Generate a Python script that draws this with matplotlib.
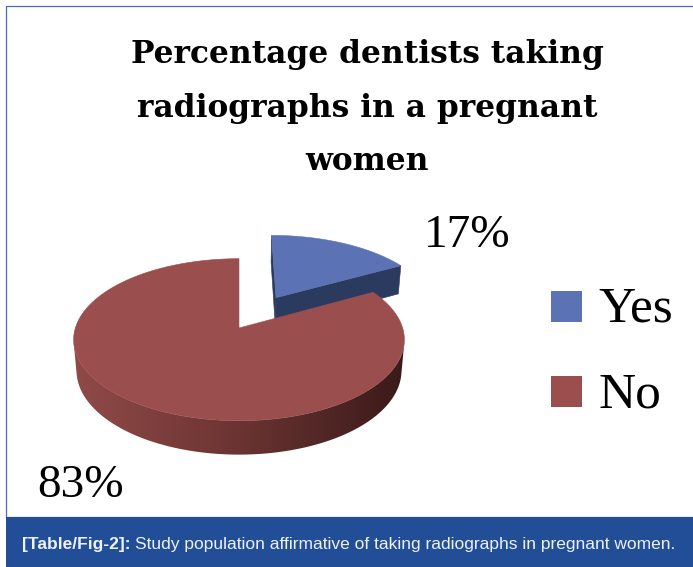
import matplotlib.pyplot as plt
import numpy as np
from matplotlib.colors import LinearSegmentedColormap
from matplotlib.patches import Polygon, Rectangle

# chart content
title_lines = ["Percentage dentists taking", "radiographs in a pregnant", "women"]
categories = ["Yes", "No"]
percent = [17, 83]
explode = [0.47, 0.0]
caption_tag = "[Table/Fig-2]:"
caption_text = "Study population affirmative of taking radiographs in pregnant women."

top_colors = ["#5B72B5", "#9A4F4E"]
wall_colors = ["#2B3A5F", "#5E2D2C"]
side_cmaps = [
    LinearSegmentedColormap.from_list("side_yes", ["#3F5690", "#233256"]),
    LinearSegmentedColormap.from_list("side_no", ["#904A48", "#6A3432", "#3A1A19"]),
]

# 3D view of the pie (excel style perspective)
phi = np.radians(29)
dist = 6.05
focal = 990
depth = 0.218
cx, cy = 239, 328
cam = np.array([0.0, -dist * np.cos(phi), dist * np.sin(phi)])


def project(X, Y, Z):
    yc = Z * np.cos(phi) + Y * np.sin(phi)
    zc = dist + Y * np.cos(phi) - Z * np.sin(phi)
    return np.column_stack([cx + focal * X / zc, cy - focal * yc / zc])


fig = plt.figure(figsize=(6.93, 5.67), dpi=100)
ax = fig.add_axes([0, 0, 1, 1])
ax.set_xlim(0, 693)
ax.set_ylim(567, 0)
ax.axis("off")

# frame of the figure and caption bar
ax.add_patch(Rectangle((6, 6), 720, 511, fill=False, edgecolor="#4A6DB3", lw=0.9))
ax.add_patch(Rectangle((6, 517), 700, 60, facecolor="#214E97", edgecolor="none"))

# slice angles, starting at 12 o'clock and going clockwise
frac = np.array(percent) / sum(percent)
bounds = 90 - 360 * np.concatenate([[0], np.cumsum(frac)])

slices = []
for i in range(len(percent)):
    t0, t1 = np.radians(bounds[i]), np.radians(bounds[i + 1])
    mid = (t0 + t1) / 2
    ox, oy = explode[i] * np.cos(mid), explode[i] * np.sin(mid)
    slices.append((i, t0, t1, ox, oy))

# back slices first
slices.sort(key=lambda s: -s[4])

for i, t0, t1, ox, oy in slices:
    t = np.linspace(t0, t1, 300)
    rx, ry = ox + np.cos(t), oy + np.sin(t)

    # outer side, only the part facing the camera
    vis = -(rx - cam[0]) * np.cos(t) - (ry - cam[1]) * np.sin(t) > 0
    if vis.sum() > 1:
        tv = t[vis]
        top = project(ox + np.cos(tv), oy + np.sin(tv), np.zeros_like(tv))
        bot = project(ox + np.cos(tv), oy + np.sin(tv), -depth * np.ones_like(tv))
        pts = np.vstack([top, bot[::-1]])
        side = Polygon(pts, closed=True, facecolor="none", edgecolor="none")
        ax.add_patch(side)
        x0, x1 = pts[:, 0].min(), pts[:, 0].max()
        y0, y1 = pts[:, 1].min(), pts[:, 1].max()
        grad = np.linspace(0, 1, 256)[None, :]
        im = ax.imshow(grad, cmap=side_cmaps[i], extent=[x0, x1, y1, y0],
                       aspect="auto", interpolation="bicubic")
        im.set_clip_path(side)

    # radial walls
    apex = np.array([ox, oy, 0.0])
    for ta, normal in [(t1, (np.sin(t1), -np.cos(t1))), (t0, (-np.sin(t0), np.cos(t0)))]:
        to_cam = cam - apex
        if normal[0] * to_cam[0] + normal[1] * to_cam[1] > 1e-6:
            wx = np.array([ox, ox + np.cos(ta), ox + np.cos(ta), ox])
            wy = np.array([oy, oy + np.sin(ta), oy + np.sin(ta), oy])
            wz = np.array([0, 0, -depth, -depth])
            ax.add_patch(Polygon(project(wx, wy, wz), closed=True,
                                 facecolor=wall_colors[i], edgecolor=wall_colors[i], lw=0.4))

    # top face
    fx = np.concatenate([[ox], rx])
    fy = np.concatenate([[oy], ry])
    ax.add_patch(Polygon(project(fx, fy, np.zeros_like(fx)), closed=True,
                         facecolor=top_colors[i], edgecolor=top_colors[i], lw=0.4))

# data labels
label_pos = [(467, 247), (81, 497)]
for p, (lx, ly) in zip(percent, label_pos):
    ax.text(lx, ly, f"{p}%", ha="center", va="baseline",
            fontsize=34, family="Liberation Serif", color="black")

# legend
legend_y = [322, 407]
for name, col, ly in zip(categories, top_colors, legend_y):
    ax.add_patch(Rectangle((551, ly - 31), 31, 31, facecolor=col, edgecolor="none"))
    ax.text(598, ly, name, ha="left", va="baseline",
            fontsize=37, family="Liberation Serif", color="black")

# title
title_y = [63, 117, 170]
for line, ty in zip(title_lines, title_y):
    ax.text(367, ty, line, ha="center", va="baseline", fontsize=22.5,
            family="DejaVu Serif", fontweight="bold", color="black")

# caption
tag = ax.text(22, 549, caption_tag, ha="left", va="baseline", fontsize=12.5,
              family="Liberation Sans", fontweight="bold", color="#EEF1F8")
ax.annotate(caption_text, xy=(1, 0), xycoords=tag, xytext=(3, 0),
            textcoords="offset points", ha="left", va="bottom", fontsize=12.5,
            family="Liberation Sans", color="#EEF1F8")

fig.savefig("out.png", dpi=100)
